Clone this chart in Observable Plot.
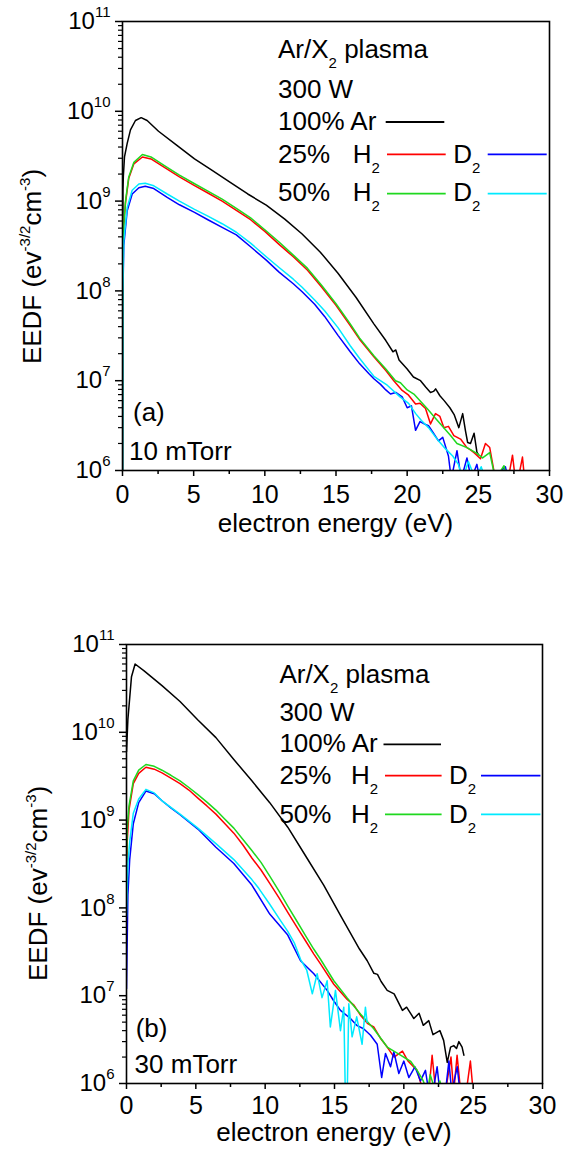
<!DOCTYPE html>
<html><head><meta charset="utf-8">
<script src="https://cdn.jsdelivr.net/npm/d3@7"></script>
<script src="https://cdn.jsdelivr.net/npm/@observablehq/plot@0.6"></script>
<style>
body{margin:0;background:#fff;}
#wrap{position:relative;width:563px;height:1150px;overflow:hidden;}
#wrap > div{position:absolute;left:0;}
svg text{white-space:pre;}
</style></head><body>
<div id="wrap"><div id="pa" style="top:0px"></div><div id="pb" style="top:560px"></div></div>
<script>
// ---------- axes / ticks ----------
const xMajor = [0, 5, 10, 15, 20, 25, 30];
const xMinor = [2.5, 7.5, 12.5, 17.5, 22.5, 27.5];
const yMajor = [1e6, 1e7, 1e8, 1e9, 1e10, 1e11];
const yExp = ["6", "7", "8", "9", "10", "11"];
const yMinor = [];
for (let k = 6; k < 11; k++) for (let m = 2; m <= 9; m++) yMinor.push(m * Math.pow(10, k));

const seriesNames = ["100% Ar", "25% H2", "25% D2", "50% H2", "50% D2"];
const seriesColors = ["#000000", "#ff0000", "#0000ff", "#1fd81f", "#00eaff"];

// ---------- panel (a) 10 mTorr : [energy eV, EEDF] ----------
const a_Ar = [[0,5e5],[0.03,1.3e9],[0.06,1.9e9],[0.14,3.1e9],[0.33,4.4e9],[0.56,6.2e9],[0.91,7.9e9],[1.31,8.5e9],[1.73,7.9e9],[2.53,6.0e9],[3.8,4.2e9],[5.06,2.95e9],[6.3,2.2e9],[7.57,1.62e9],[8.8,1.2e9],[10.1,9.0e8],[11.4,6.3e8],[12.62,4.3e8],[13.9,2.7e8],[15.14,1.57e8],[16.4,8.5e7],[17.66,4.3e7],[18.5,2.8e7],[19.0,2.1e7],[19.2,2.2e7],[19.43,1.7e7],[20.0,1.35e7],[20.44,1.1e7],[20.94,1.0e7],[21.3,8.5e6],[21.64,7.4e6],[21.85,7.6e6],[22.0,8.1e6],[22.3,6.8e6],[22.6,6.0e6],[23.0,5.0e6],[23.3,4.2e6],[23.63,3.0e6],[23.9,4.3e6],[24.1,2.75e6],[24.25,2.05e6],[24.45,2.0e6],[24.7,2.6e6],[24.9,1.6e6],[25.0,1.5e6]];
const a_H25 = [[0,5e5],[0.02,2.2e8],[0.09,5.2e8],[0.21,9.5e8],[0.44,1.8e9],[0.8,2.6e9],[1.4,3.1e9],[2.0,2.95e9],[3.0,2.35e9],[4.0,1.86e9],[5.0,1.51e9],[6.0,1.23e9],[7.0,1.0e9],[8.0,7.9e8],[9.0,6.2e8],[10.0,4.6e8],[11.0,3.3e8],[12.0,2.4e8],[13.0,1.7e8],[14.0,1.1e8],[15.0,6.9e7],[16.0,4.1e7],[16.65,2.9e7],[17.66,1.85e7],[18.5,1.3e7],[19.06,1.0e7],[19.65,7.8e6],[20.1,6.9e6],[20.59,5.5e6],[20.9,5.6e6],[21.29,4.9e6],[21.64,3.3e6],[21.99,4.3e6],[22.3,4.0e6],[22.58,3.0e6],[22.9,3.1e6],[23.28,2.45e6],[23.75,2.24e6],[24.2,1.8e6],[24.45,1.7e6],[24.7,1.58e6],[25.15,1.35e6],[25.5,2.0e6],[25.8,1.8e6],[26.2,8e5],[26.6,9e5],[27.1,8e5],[27.4,1.48e6],[27.6,8e5],[27.8,8e5],[28.1,1.41e6],[28.25,8e5]];
const a_D25 = [[0,5e5],[0.02,7.9e7],[0.09,3.2e8],[0.33,7.8e8],[0.68,1.2e9],[1.15,1.41e9],[1.6,1.46e9],[2.2,1.38e9],[3.14,1.1e9],[4.0,9.1e8],[5.06,7.5e8],[6.0,6.2e8],[7.0,5.1e8],[8.0,4.2e8],[9.0,3.1e8],[10.1,2.2e8],[11.0,1.62e8],[12.0,1.2e8],[12.62,9.8e7],[13.5,7.1e7],[14.2,5.2e7],[15.14,3.2e7],[16.0,2.1e7],[16.65,1.55e7],[17.3,1.2e7],[17.66,1.05e7],[18.13,9.1e6],[18.5,7.9e6],[18.83,7.1e6],[19.2,7.4e6],[19.65,6.6e6],[20.0,5.0e6],[20.3,5.25e6],[20.59,2.8e6],[20.9,3.5e6],[21.2,3.3e6],[21.5,3.16e6],[21.85,2.6e6],[22.2,2.14e6],[22.5,2.34e6],[22.9,1.45e6],[23.1,8e5],[23.5,1.66e6],[23.8,8e5],[24.2,1.38e6],[24.5,8e5],[24.9,1.17e6],[25.1,8e5],[26.0,8e5],[26.9,1.1e6],[27.1,8e5]];
const a_H50 = [[0,5e5],[0.02,2.4e8],[0.09,5.6e8],[0.21,1.0e9],[0.44,1.86e9],[0.8,2.7e9],[1.4,3.3e9],[2.0,3.1e9],[3.0,2.45e9],[4.0,1.95e9],[5.0,1.58e9],[6.0,1.29e9],[7.0,1.05e9],[8.0,8.3e8],[9.0,6.5e8],[10.0,4.8e8],[11.0,3.5e8],[12.0,2.5e8],[13.0,1.78e8],[14.0,1.15e8],[15.0,7.2e7],[16.0,4.3e7],[16.65,3.0e7],[17.66,1.9e7],[18.5,1.35e7],[19.18,1.0e7],[19.53,9.5e6],[20.0,7.9e6],[20.47,7.1e6],[21.0,5.75e6],[21.4,4.9e6],[22.0,3.8e6],[22.34,3.3e6],[23.05,2.45e6],[23.5,2.0e6],[24.2,1.8e6],[24.9,1.55e6],[25.3,1.38e6],[25.8,1.58e6],[26.2,8e5],[26.8,1.13e6],[27.0,8e5]];
const a_D50 = [[0,5e5],[0.02,1.0e8],[0.09,3.6e8],[0.33,8.5e8],[0.68,1.32e9],[1.15,1.55e9],[1.6,1.58e9],[2.2,1.48e9],[3.14,1.2e9],[4.0,1.0e9],[5.06,8.1e8],[6.0,6.8e8],[7.0,5.6e8],[8.0,4.5e8],[9.0,3.4e8],[10.1,2.4e8],[11.0,1.82e8],[12.0,1.35e8],[12.62,1.1e8],[13.5,7.9e7],[14.2,6.0e7],[15.14,3.9e7],[16.0,2.45e7],[16.65,1.78e7],[17.3,1.32e7],[17.66,1.12e7],[18.6,8.9e6],[19.5,6.6e6],[20.1,5.6e6],[20.6,4.3e6],[21.0,3.6e6],[21.5,3.0e6],[22.2,2.14e6],[22.7,1.74e6],[23.2,1.45e6],[23.6,1.17e6],[23.9,8e5],[24.3,1.26e6],[24.8,8e5],[25.2,1.1e6],[25.5,8e5]];

// ---------- panel (b) 30 mTorr ----------
const b_Ar = [[0,6e9],[0.1,1.4e10],[0.23,2.45e10],[0.36,4.3e10],[0.62,6.0e10],[1.27,5.0e10],[2.56,3.4e10],[3.86,2.24e10],[5.15,1.38e10],[6.45,8.7e9],[7.74,4.9e9],[9.04,2.8e9],[10.33,1.58e9],[11.63,8.3e8],[12.92,3.9e8],[14.22,1.82e8],[15.51,7.8e7],[16.8,3.4e7],[17.36,2.5e7],[17.84,1.8e7],[18.1,1.75e7],[18.36,1.45e7],[18.8,1.15e7],[19.3,1.05e7],[19.9,6.8e6],[20.2,7.4e6],[20.72,5.5e6],[21.1,6.3e6],[21.4,4.6e6],[21.8,5.2e6],[22.1,3.6e6],[22.6,4.0e6],[22.87,3.1e6],[23.13,1.74e6],[23.37,2.6e6],[23.6,2.7e6],[23.8,2.5e6],[23.97,3.0e6],[24.2,2.6e6],[24.33,2.1e6]];
const b_H25 = [[0,1e8],[0.05,5.6e8],[0.18,1.3e9],[0.49,2.6e9],[0.88,3.4e9],[1.4,4.0e9],[2.0,3.8e9],[2.56,3.45e9],[3.2,3.0e9],[3.86,2.6e9],[4.5,2.2e9],[5.15,1.78e9],[5.8,1.45e9],[6.45,1.17e9],[7.1,9.1e8],[7.74,7.1e8],[8.4,5.2e8],[9.04,3.7e8],[9.7,2.7e8],[10.33,1.9e8],[11.0,1.3e8],[11.63,8.9e7],[12.3,6.0e7],[12.92,4.2e7],[13.5,3.0e7],[13.99,2.3e7],[14.95,1.35e7],[15.9,9.1e6],[16.4,7.8e6],[16.87,6.0e6],[17.4,4.8e6],[17.83,4.4e6],[18.3,3.3e6],[18.8,2.6e6],[19.3,2.0e6],[19.9,2.34e6],[20.3,1.8e6],[20.96,1.41e6],[21.4,8e5],[21.8,8e5],[22.04,2.1e6],[22.3,8e5],[23.0,8e5],[23.4,2.0e6],[23.6,8e5],[23.84,2.1e6],[24.1,8e5],[24.5,8e5],[24.8,1.8e6],[25.0,8e5]];
const b_D25 = [[0,1.2e7],[0.1,1.4e8],[0.23,3.55e8],[0.49,9.1e8],[0.88,1.58e9],[1.4,2.14e9],[2.0,2.0e9],[2.56,1.66e9],[3.2,1.38e9],[3.86,1.15e9],[5.15,7.9e8],[6.45,4.9e8],[7.74,3.2e8],[9.04,1.82e8],[10.33,8.5e7],[11.63,4.9e7],[12.55,2.5e7],[13.51,1.78e7],[14.47,1.15e7],[14.95,8.7e6],[15.43,6.8e6],[16.15,5.5e6],[16.6,4.6e6],[17.1,4.2e6],[17.6,3.55e6],[18.08,2.8e6],[18.4,1.17e6],[18.68,2.2e6],[19.04,1.55e6],[19.28,2.3e6],[19.64,1.3e6],[20.0,1.8e6],[20.36,1.17e6],[20.8,1.55e6],[21.2,1.07e6],[21.56,1.41e6],[21.8,8e5],[22.1,8e5],[22.4,1.55e6],[22.6,8e5],[23.0,8e5],[23.25,1.8e6],[23.45,8e5],[23.85,1.55e6],[24.05,8e5]];
const b_H50 = [[0,3.2e8],[0.05,7.9e8],[0.18,1.45e9],[0.49,2.8e9],[0.88,3.7e9],[1.4,4.3e9],[2.0,4.1e9],[2.56,3.7e9],[3.2,3.24e9],[3.86,2.8e9],[4.5,2.35e9],[5.15,1.95e9],[5.8,1.6e9],[6.45,1.3e9],[7.1,1.02e9],[7.74,8.1e8],[8.4,6.0e8],[9.04,4.5e8],[9.7,3.3e8],[10.33,2.3e8],[11.0,1.55e8],[11.63,1.05e8],[12.3,7.0e7],[12.92,4.8e7],[13.5,3.4e7],[13.99,2.6e7],[14.95,1.48e7],[15.9,9.5e6],[16.87,6.2e6],[17.83,4.2e6],[18.8,2.6e6],[19.76,2.1e6],[20.5,1.78e6],[20.96,1.41e6],[21.4,1.07e6],[21.7,8e5],[21.9,1.26e6],[22.3,8e5],[22.6,1.07e6],[22.8,8e5]];
const b_D50 = [[0,8e7],[0.1,3.2e8],[0.23,5.6e8],[0.49,1.2e9],[0.88,1.74e9],[1.4,2.24e9],[2.0,2.04e9],[2.56,1.66e9],[3.86,1.17e9],[5.15,8.1e8],[6.45,5.4e8],[7.74,3.55e8],[9.04,2.1e8],[9.55,1.66e8],[10.33,1.1e8],[11.0,7.6e7],[11.63,5.4e7],[12.1,4.0e7],[12.55,2.6e7],[13.0,1.95e7],[13.4,1.05e7],[13.75,1.78e7],[14.1,9.5e6],[14.47,1.48e7],[14.7,4.4e6],[15.07,1.15e7],[15.43,4.0e6],[15.67,7.4e6],[15.8,5e5],[15.9,5e5],[16.03,8.1e6],[16.27,3.4e6],[16.6,5.75e6],[16.99,2.8e6],[17.23,7.4e6],[17.35,5.0e6]];

const panelA = {id: "pa", series: [a_Ar, a_H25, a_D25, a_H50, a_D50], height: 560, mt: 21, mr: 14, mb: 90, ml: 122,
  tag: "(a)", press: "10 mTorr",
  L: {tx: 278, hx: 352.7, dx: 453.3, base: [58, 98, 130, 163, 201], lineY: [122, 154.3, 193.7],
      arL: [385.7, 444.3], hL: [387, 445.7], dL: [487.7, 546.7]},
  tagPos: [133, 421], pressPos: [129, 460], ylab: [40.6, 266.5], xlabY: 532, xPad: 9};
const panelB = {id: "pb", series: [b_Ar, b_H25, b_D25, b_H50, b_D50], height: 590, mt: 84, mr: 21, mb: 67, ml: 126,
  tag: "(b)", press: "30 mTorr",
  L: {tx: 279.4, hx: 351, dx: 449, base: [123.4, 161, 192.3, 224, 262.7], lineY: [184.4, 215.6, 254.4],
      arL: [383.5, 441], hL: [385, 441.6], dL: [481, 540.4]},
  tagPos: [135.7, 477], pressPos: [134.6, 513], ylab: [46.7, 323.4], xlabY: 581, xPad: 7};

function addText(svg, x, y, parts, opt = {}) {
  const t = d3.select(svg).append("text").attr("x", x).attr("y", y)
    .attr("font-size", opt.size || 26).attr("fill", "black")
    .attr("text-anchor", opt.anchor || "start")
    .attr("font-family", "'Liberation Sans', Arial, sans-serif");
  if (opt.transform) t.attr("transform", opt.transform);
  let cur = 0;
  for (const p of parts) {
    const [s, shift, size] = typeof p === "string" ? [p, 0, null] : p;
    const ts = t.append("tspan").text(s);
    if (shift !== cur) { ts.attr("dy", shift - cur); cur = shift; }
    if (size) ts.attr("font-size", size);
  }
  return t;
}
function addLine(svg, x1, x2, y, color) {
  d3.select(svg).append("line").attr("x1", x1).attr("x2", x2).attr("y1", y).attr("y2", y)
    .attr("stroke", color).attr("stroke-width", 1.8);
}

function draw(P) {
  const marks = [];
  P.series.forEach((data, i) => {
    marks.push(Plot.line(data, {x: d => d[0], y: d => d[1], stroke: seriesColors[i], strokeWidth: 1.5, clip: true}));
  });
  marks.push(
    Plot.axisX({ticks: xMajor, tickSize: 6, tickPadding: P.xPad, tickFormat: d => String(d), label: null, strokeWidth: 1.5}),
    Plot.axisX({ticks: xMinor, tickSize: 4, tickFormat: () => "", label: null, strokeWidth: 1.5}),
    Plot.axisY({ticks: yMajor, tickSize: 7, tickPadding: 5, tickFormat: d => "10^" + yExp[yMajor.indexOf(d)], label: null, strokeWidth: 1.5}),
    Plot.axisY({ticks: yMinor, tickSize: 4, tickFormat: () => "", label: null, strokeWidth: 1.2}),
    Plot.frame({stroke: "black", strokeWidth: 1.6})
  );
  const svg = Plot.plot({
    width: 563, height: P.height,
    marginTop: P.mt, marginRight: P.mr, marginBottom: P.mb, marginLeft: P.ml,
    x: {domain: [0, 30]},
    y: {type: "log", domain: [1e6, 1e11]},
    style: {fontSize: "25px", fontFamily: "'Liberation Sans', Arial, sans-serif", color: "black", background: "white", overflow: "visible"},
    marks
  });
  document.getElementById(P.id).appendChild(svg);

  d3.select(svg).selectAll('g[aria-label="y-axis tick label"] text').each(function () {
    const s = this.textContent;
    if (!s.startsWith("10^")) return;
    const sel = d3.select(this);
    sel.text("10").attr("font-size", 24);
    sel.append("tspan").attr("dy", -12).attr("font-size", 15).text(s.slice(3));
  });

  const L = P.L;
  addText(svg, L.tx, L.base[0], ["Ar/X", ["2", 10, 15], [" plasma", 0]]);
  addText(svg, L.tx, L.base[1], ["300 W"]);
  addText(svg, L.tx, L.base[2], ["100% Ar"]);
  addLine(svg, L.arL[0], L.arL[1], L.lineY[0], seriesColors[0]);
  addText(svg, L.tx, L.base[3], ["25%"]);
  addText(svg, L.hx, L.base[3], ["H", ["2", 10, 15]]);
  addLine(svg, L.hL[0], L.hL[1], L.lineY[1], seriesColors[1]);
  addText(svg, L.dx, L.base[3], ["D", ["2", 10, 15]]);
  addLine(svg, L.dL[0], L.dL[1], L.lineY[1], seriesColors[2]);
  addText(svg, L.tx, L.base[4], ["50%"]);
  addText(svg, L.hx, L.base[4], ["H", ["2", 10, 15]]);
  addLine(svg, L.hL[0], L.hL[1], L.lineY[2], seriesColors[3]);
  addText(svg, L.dx, L.base[4], ["D", ["2", 10, 15]]);
  addLine(svg, L.dL[0], L.dL[1], L.lineY[2], seriesColors[4]);

  addText(svg, P.tagPos[0], P.tagPos[1], [P.tag]);
  addText(svg, P.pressPos[0], P.pressPos[1], [P.press]);
  addText(svg, 0, 0, ["EEDF (ev", ["-3/2", -11, 15], ["cm", 0], ["-3", -11, 15], [")", 0]],
    {anchor: "middle", transform: `translate(${P.ylab[0]},${P.ylab[1]}) rotate(-90)`});
  const cx = P.ml + (563 - P.ml - P.mr) / 2;
  addText(svg, cx, P.xlabY, ["electron energy (eV)"], {anchor: "middle"});
}
draw(panelA);
draw(panelB);
</script>
</body></html>
